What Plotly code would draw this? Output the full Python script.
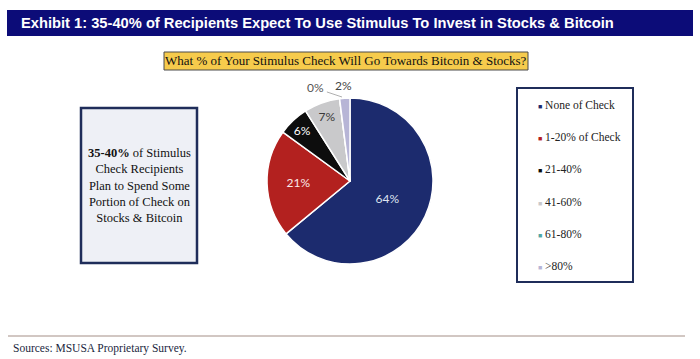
import plotly.graph_objects as go

# ---- data ----
categories = ["None of Check", "1-20% of Check", "21-40%", "41-60%", "61-80%", ">80%"]
shares = [64, 21, 6, 7, 0, 2]
slice_colors = ["#1c2b6e", "#b3211f", "#0d0d0d", "#c9c9cb", "#4fa7a6", "#b7b5d6"]
text_colors = ["#dfe3f0", "#fbe9e9", "#ffffff", "#3a3a3a", "#555555", "#444444"]
text_pos = ["inside", "inside", "inside", "inside", "none", "none"]

title_text = "Exhibit 1: 35-40% of Recipients Expect To Use Stimulus To Invest in Stocks & Bitcoin"
question_text = "What % of Your Stimulus Check Will Go Towards Bitcoin & Stocks?"
callout_lines = ["<b>35-40%</b> of Stimulus", "Check Recipients", "Plan to Spend Some",
                 "Portion of Check on", "Stocks & Bitcoin"]
source_text = "Sources: MSUSA Proprietary Survey."

W, H = 700, 359
def px(x): return x / W
def py(y): return 1 - y / H

fig = go.Figure()

cx, cy, r = 350, 181, 83
fig.add_trace(go.Pie(
    labels=categories, values=shares, sort=False, direction="clockwise", rotation=0,
    marker=dict(colors=slice_colors, line=dict(color="white", width=1.5)),
    texttemplate="%{value:.0f}%", textposition=text_pos,
    textfont=dict(family="Lato", size=12, color=text_colors),
    insidetextorientation="horizontal",
    showlegend=False, hoverinfo="label+percent",
    domain=dict(x=[px(cx - r), px(cx + r)], y=[py(cy + r), py(cy - r)]),
))

shapes = []
annotations = []

# small-slice labels placed outside the pie
annotations.append(dict(xref="paper", yref="paper", x=px(342), y=py(97), ax=-27, ay=-9,
                        text=f"{shares[4]}%", showarrow=True, arrowhead=0, arrowwidth=0.8,
                        arrowcolor="#9a9a9a", standoff=0, startstandoff=2,
                        font=dict(family="Lato", size=12, color=text_colors[4])))
annotations.append(dict(xref="paper", yref="paper", x=px(343), y=py(86), xanchor="center", yanchor="middle",
                        text=f"{shares[5]}%", showarrow=False,
                        font=dict(family="Lato", size=12, color=text_colors[5])))

# title bar
shapes.append(dict(type="rect", xref="paper", yref="paper", x0=px(7), x1=px(693), y0=py(36), y1=py(10),
                   fillcolor="#0c0c78", line=dict(width=0), layer="below"))
annotations.append(dict(xref="paper", yref="paper", x=px(19), y=py(23), xanchor="left", yanchor="middle",
                        text="<b>" + title_text + "</b>", showarrow=False,
                        font=dict(family="Liberation Sans, Arial, sans-serif", size=14.7, color="white")))

# question box
shapes.append(dict(type="rect", xref="paper", yref="paper", x0=px(164), x1=px(528), y0=py(70), y1=py(52),
                   fillcolor="#f6cb4c", line=dict(color="#4a4a4a", width=1), layer="below"))
annotations.append(dict(xref="paper", yref="paper", x=px(346), y=py(61), xanchor="center", yanchor="middle",
                        text=question_text, showarrow=False,
                        font=dict(family="Liberation Serif", size=13, color="#111111")))

# callout box
shapes.append(dict(type="rect", xref="paper", yref="paper", x0=px(81), x1=px(197), y0=py(263), y1=py(108),
                   fillcolor="#eef0f6", line=dict(color="#1f2d5a", width=2.5), layer="below"))
annotations.append(dict(xref="paper", yref="paper", x=px(139), y=py(186), xanchor="center", yanchor="middle",
                        text="<br>".join(callout_lines), showarrow=False, align="center",
                        font=dict(family="Liberation Serif", size=12.5, color="#111111")))

# legend box
shapes.append(dict(type="rect", xref="paper", yref="paper", x0=px(517), x1=px(633), y0=py(282), y1=py(88),
                   fillcolor="white", line=dict(color="#1f2d5a", width=2), layer="below"))
leg_y0, leg_dy = 105, 32.2
for i, (lab, col) in enumerate(zip(categories, slice_colors)):
    annotations.append(dict(xref="paper", yref="paper", x=px(536), y=py(leg_y0 + i * leg_dy),
                            xanchor="left", yanchor="middle", showarrow=False,
                            text=f"<span style='color:{col};font-size:7px'>■</span> {lab}",
                            font=dict(family="Liberation Serif", size=11.5, color="#222222")))

# footer
shapes.append(dict(type="line", xref="paper", yref="paper", x0=px(8), x1=px(685), y0=py(336), y1=py(336),
                   line=dict(color="#a48f86", width=1)))
annotations.append(dict(xref="paper", yref="paper", x=px(11), y=py(348), xanchor="left", yanchor="middle",
                        text=source_text, showarrow=False,
                        font=dict(family="Liberation Serif", size=11.5, color="#1a1f40")))

fig.update_layout(
    width=W, height=H, margin=dict(l=0, r=0, t=0, b=0),
    paper_bgcolor="white", plot_bgcolor="white",
    shapes=shapes, annotations=annotations,
)
fig.write_html("out.html", config={"displayModeBar": False},
               post_script="document.body.style.margin='0';")
